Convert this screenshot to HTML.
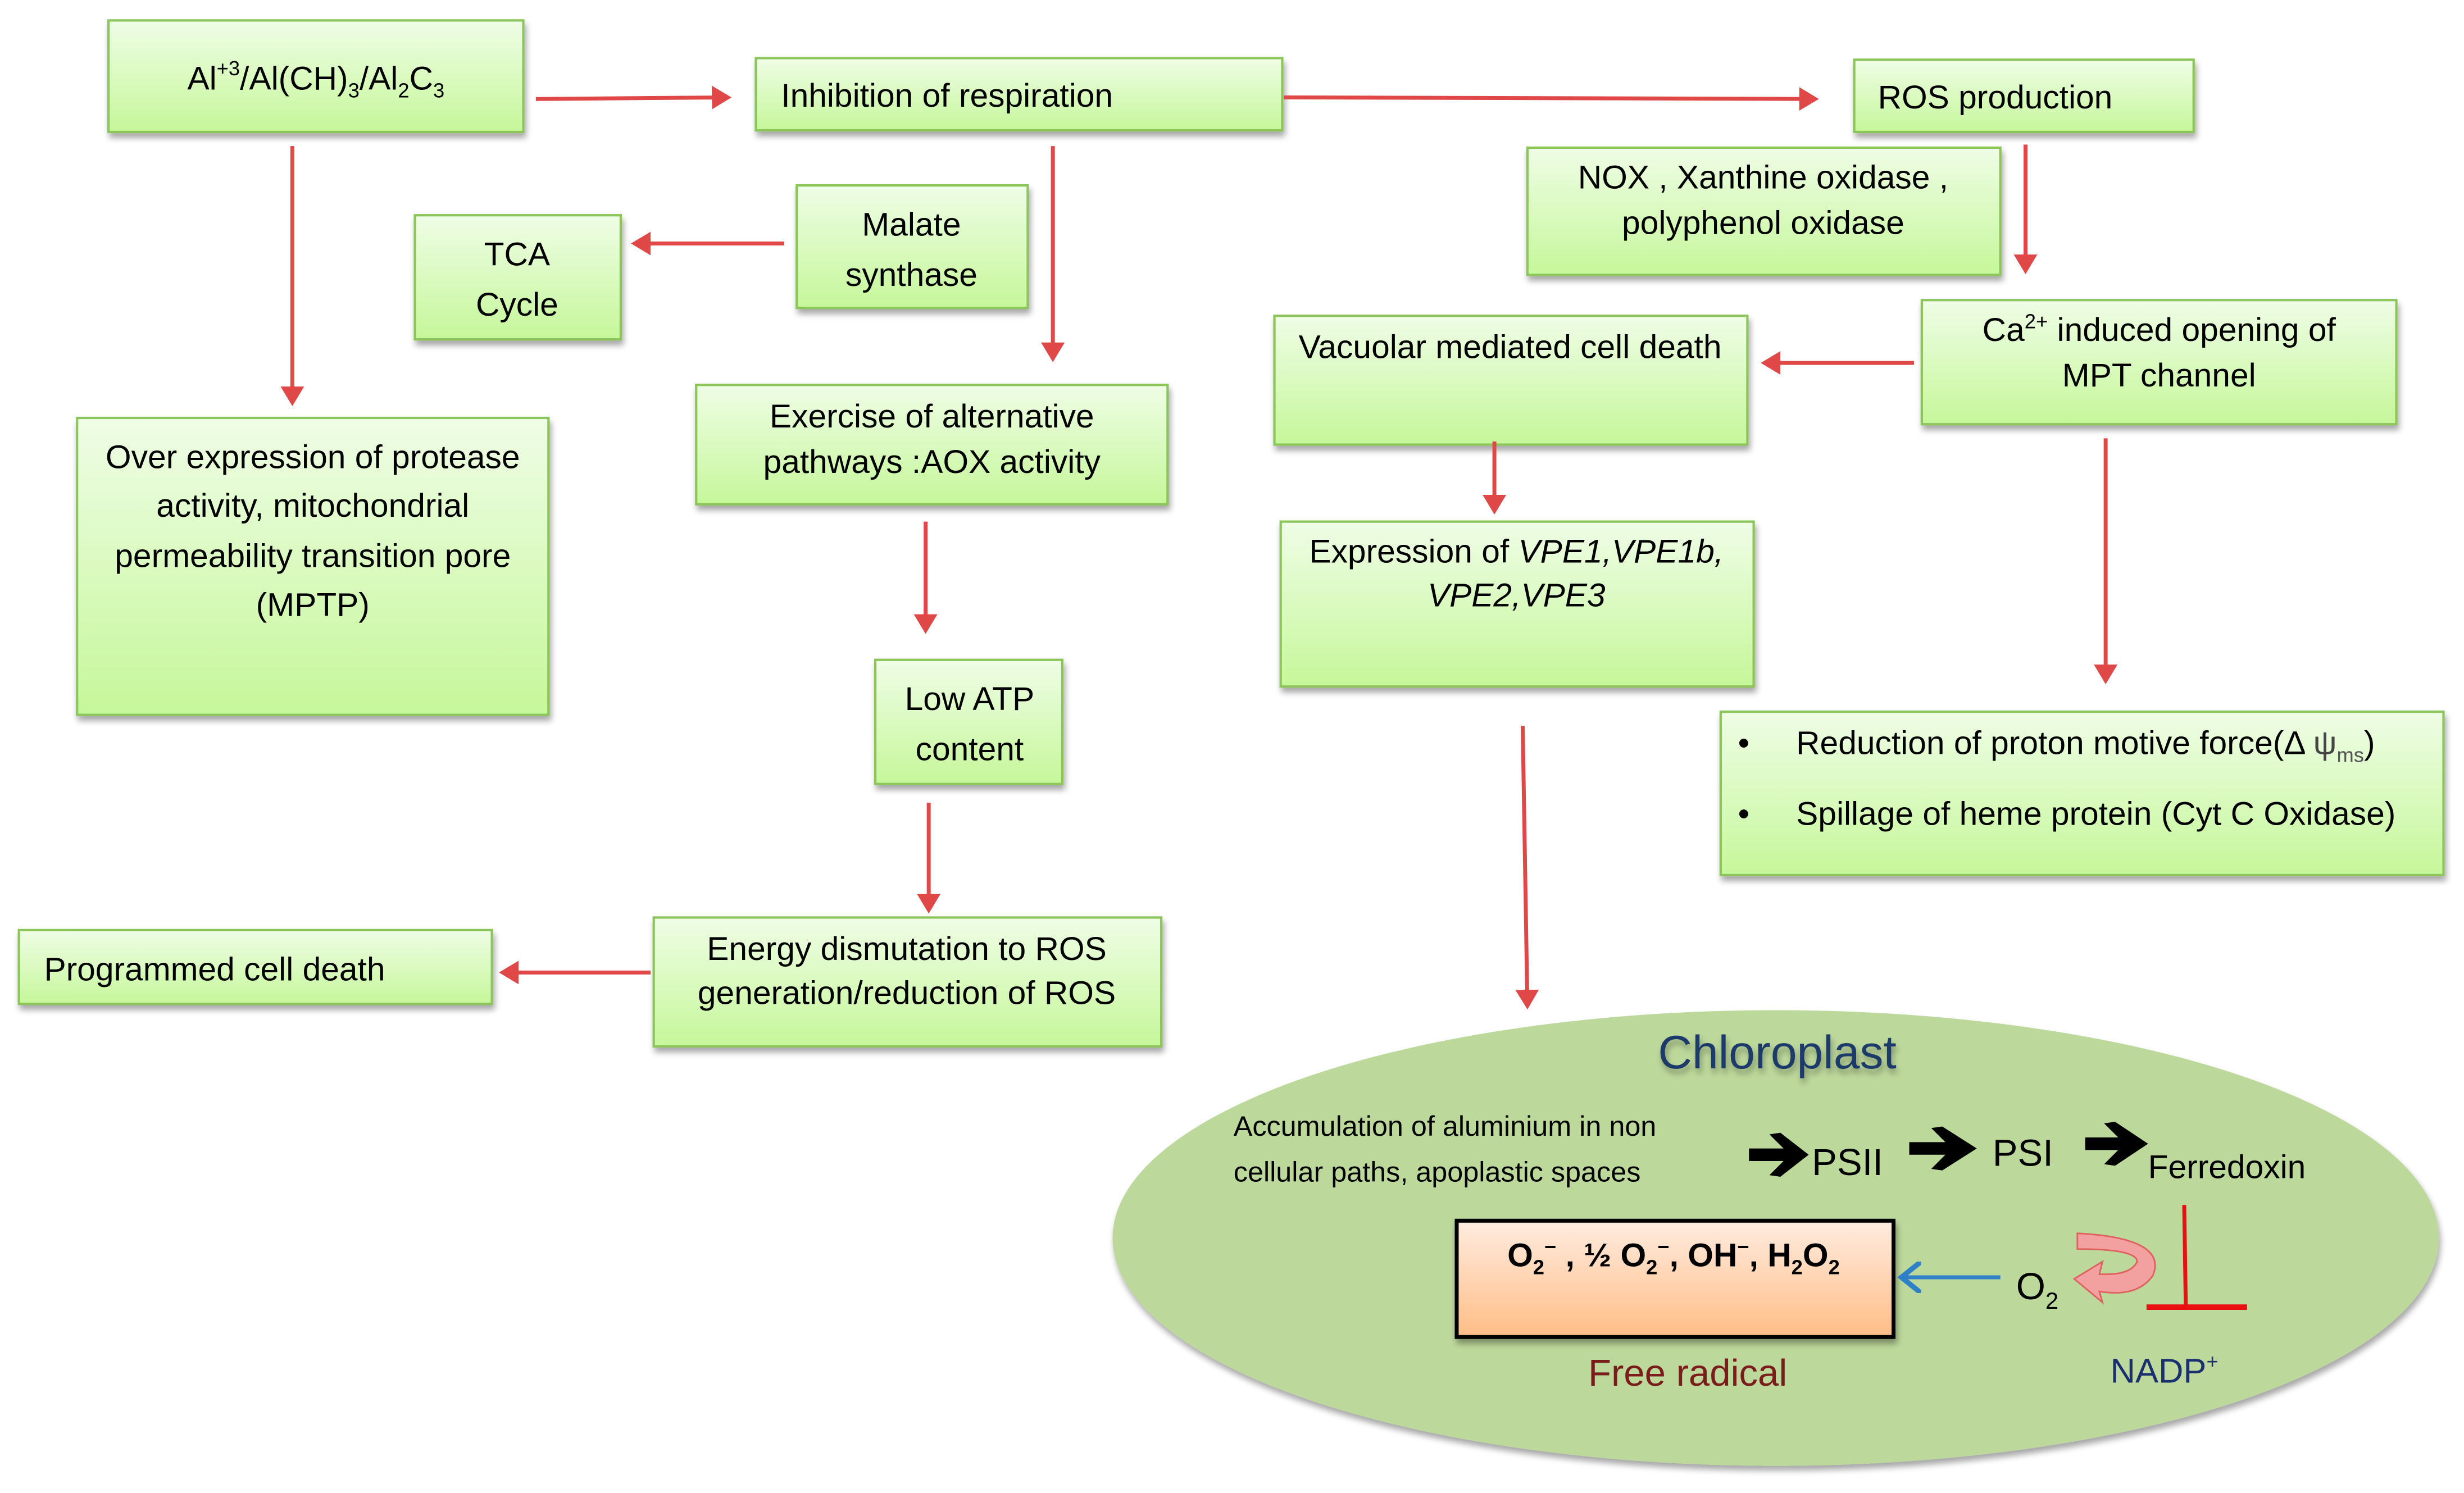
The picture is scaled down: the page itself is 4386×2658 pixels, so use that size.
<!DOCTYPE html>
<html><head><meta charset="utf-8"><style>
html,body{margin:0;padding:0;background:#fff;}
svg{display:block;}
text{font-family:"Liberation Sans Narrow","Liberation Sans",sans-serif;fill:#000;}
</style></head><body>
<svg width="4386" height="2658" viewBox="0 0 1568 950.3" xmlns="http://www.w3.org/2000/svg">
<defs>
<linearGradient id="g" x1="0" y1="0" x2="0" y2="1"><stop offset="0" stop-color="#effde6"/><stop offset="1" stop-color="#c6f79a"/></linearGradient>
<linearGradient id="o" x1="0" y1="0" x2="0" y2="1"><stop offset="0" stop-color="#ffece0"/><stop offset="1" stop-color="#ffbd86"/></linearGradient>
<filter id="s" x="-5%" y="-5%" width="115%" height="125%"><feGaussianBlur in="SourceAlpha" stdDeviation="2"/><feOffset dx="1" dy="3"/><feComponentTransfer><feFuncA type="linear" slope="0.35"/></feComponentTransfer><feMerge><feMergeNode/><feMergeNode in="SourceGraphic"/></feMerge></filter>
<marker id="a" markerWidth="6" markerHeight="6" refX="4" refY="3" orient="auto" markerUnits="strokeWidth"><path d="M0,0 L5,3 L0,6 Z" fill="#e04848"/></marker>
<marker id="b" markerWidth="8" markerHeight="8" refX="5" refY="4" orient="auto" markerUnits="strokeWidth"><path d="M0,0 L5,4 L0,8" fill="none" stroke="#2e80c8" stroke-width="1.3"/></marker>
</defs>
<g fill="url(#g)" stroke="#8cc55a" stroke-width="1.5" filter="url(#s)">
<rect x="69" y="13" width="264" height="71"/>
<rect x="481" y="37" width="335" height="46"/>
<rect x="1180" y="38" width="216" height="46"/>
<rect x="972" y="94" width="301" height="81"/>
<rect x="507" y="118" width="147" height="78"/>
<rect x="264" y="137" width="131" height="79"/>
<rect x="49" y="266" width="300" height="189"/>
<rect x="443" y="245" width="300" height="76"/>
<rect x="557" y="420" width="119" height="79"/>
<rect x="416" y="584" width="323" height="82"/>
<rect x="12" y="592" width="301" height="47"/>
<rect x="811" y="201" width="301" height="82"/>
<rect x="1223" y="191" width="302" height="79"/>
<rect x="815" y="332" width="301" height="105"/>
<rect x="1095" y="453" width="460" height="104"/>
</g>
<g stroke="#e04848" stroke-width="2.5" fill="none" marker-end="url(#a)">
<line x1="341" y1="63" x2="463" y2="62"/>
<line x1="817" y1="62" x2="1155" y2="63"/>
<line x1="186" y1="93" x2="186" y2="256"/>
<line x1="499" y1="155" x2="404" y2="155"/>
<line x1="670" y1="93" x2="670" y2="228"/>
<line x1="1289" y1="92" x2="1289" y2="172"/>
<line x1="1218" y1="231" x2="1123" y2="231"/>
<line x1="951" y1="281" x2="951" y2="325"/>
<line x1="1340" y1="279" x2="1340" y2="433"/>
<line x1="589" y1="332" x2="589" y2="401"/>
<line x1="591" y1="511" x2="591" y2="579"/>
<line x1="414" y1="619" x2="320" y2="619"/>
<line x1="969" y1="462" x2="972" y2="640"/>
</g>
<g font-size="21">
<text x="201" y="57" text-anchor="middle">Al<tspan font-size="13" dy="-9">+3</tspan><tspan dy="9">/Al(CH)</tspan><tspan font-size="13" dy="5">3</tspan><tspan dy="-5">/Al</tspan><tspan font-size="13" dy="5">2</tspan><tspan dy="-5">C</tspan><tspan font-size="13" dy="5">3</tspan></text>
<text x="497" y="68">Inhibition of respiration</text>
<text x="1195" y="69">ROS  production</text>
<text x="1122" y="120" text-anchor="middle">NOX , Xanthine oxidase ,</text>
<text x="1122" y="149" text-anchor="middle">polyphenol oxidase</text>
<text x="580" y="150" text-anchor="middle">Malate</text>
<text x="580" y="182" text-anchor="middle">synthase</text>
<text x="329" y="169" text-anchor="middle">TCA</text>
<text x="329" y="201" text-anchor="middle">Cycle</text>
<text x="199" y="298" text-anchor="middle">Over expression of protease</text>
<text x="199" y="329" text-anchor="middle">activity, mitochondrial</text>
<text x="199" y="361" text-anchor="middle">permeability transition pore</text>
<text x="199" y="392" text-anchor="middle">(MPTP)</text>
<text x="593" y="272" text-anchor="middle">Exercise of alternative</text>
<text x="593" y="301" text-anchor="middle">pathways :AOX activity</text>
<text x="617" y="452" text-anchor="middle">Low ATP</text>
<text x="617" y="484" text-anchor="middle">content</text>
<text x="577" y="611" text-anchor="middle">Energy dismutation to ROS</text>
<text x="577" y="639" text-anchor="middle">generation/reduction of ROS</text>
<text x="28" y="624">Programmed cell death</text>
<text x="961" y="228" text-anchor="middle">Vacuolar mediated cell death</text>
<text x="1374" y="217" text-anchor="middle">Ca<tspan font-size="13" dy="-8">2+</tspan><tspan dy="8"> induced opening of</tspan></text>
<text x="1374" y="246" text-anchor="middle">MPT channel</text>
<text x="965" y="358" text-anchor="middle">Expression of <tspan font-style="italic">VPE1,VPE1b,</tspan></text>
<text x="965" y="386" text-anchor="middle" font-style="italic">VPE2,VPE3</text>
<text x="1106" y="480">•</text>
<text x="1143" y="480">Reduction of proton motive force(Δ <tspan fill="#444">ψ</tspan><tspan font-size="13" fill="#555" dy="5">ms</tspan><tspan dy="-5">)</tspan></text>
<text x="1106" y="525">•</text>
<text x="1143" y="525">Spillage of heme protein (Cyt C Oxidase)</text>
</g>
<ellipse cx="1130" cy="788" rx="422" ry="145" fill="#bdd89b" filter="url(#s)"/>
<text x="1131" y="680" text-anchor="middle" font-size="30" style="fill:#1c3a6a" filter="url(#s)">Chloroplast</text>
<text x="785" y="723" font-size="18">Accumulation of aluminium in non</text>
<text x="785" y="752" font-size="18">cellular paths, apoplastic spaces</text>
<g fill="#000">
<path d="M1113,731 L1135,731 L1126,722 L1133,721 L1151,735 L1133,749 L1126,748 L1135,739 L1113,739Z"/>
<path d="M1215,727 L1238,727 L1229,718 L1236,717 L1258,731 L1236,745 L1229,744 L1238,735 L1215,735Z"/>
<path d="M1327,724 L1348,724 L1339,715 L1346,714 L1367,728 L1346,742 L1339,741 L1348,732 L1327,732Z"/>
</g>
<text x="1153" y="748" font-size="24">PSII</text>
<text x="1268" y="742" font-size="24">PSI</text>
<text x="1367" y="750" font-size="21">Ferredoxin</text>
<rect x="927" y="777" width="278" height="74" fill="url(#o)" stroke="#000" stroke-width="2.5" filter="url(#s)"/>
<text x="1065" y="806" text-anchor="middle" font-size="21" font-weight="bold">O<tspan font-size="13" dy="5">2</tspan><tspan font-size="13" dy="-13">−</tspan><tspan dy="8"> , ½ O</tspan><tspan font-size="13" dy="5">2</tspan><tspan font-size="13" dy="-13">−</tspan><tspan dy="8">, OH</tspan><tspan font-size="13" dy="-8">−</tspan><tspan dy="8">, H</tspan><tspan font-size="13" dy="5">2</tspan><tspan dy="-5">O</tspan><tspan font-size="13" dy="5">2</tspan></text>
<line x1="1273" y1="813" x2="1210" y2="813" stroke="#2e80c8" stroke-width="2.5" marker-end="url(#b)"/>
<text x="1283" y="827" font-size="24">O<tspan font-size="15" dy="6">2</tspan></text>
<path d="M1322,785 Q1380,788 1370,812 Q1360,826 1336,822 L1338,829 L1320,814 L1338,803 L1336,811 Q1356,812 1360,803 Q1360,795 1322,795Z" fill="#f2a0a0" stroke="#e06060" stroke-width="1"/>
<line x1="1390" y1="767" x2="1391" y2="832" stroke="#e81010" stroke-width="2.5"/>
<line x1="1366" y1="832" x2="1430" y2="832" stroke="#e81010" stroke-width="3.5"/>
<text x="1074" y="882" text-anchor="middle" font-size="24" style="fill:#7a1c1c">Free radical</text>
<text x="1343" y="880" font-size="22" style="fill:#1a2f70">NADP<tspan font-size="13" dy="-9">+</tspan></text>
</svg>
</body></html>
